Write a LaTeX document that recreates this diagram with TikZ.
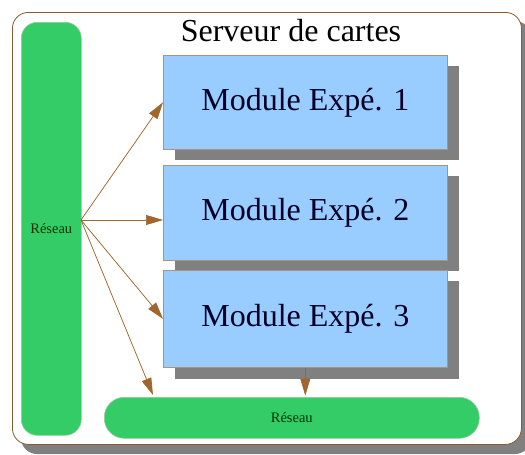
\documentclass[tikz,border=0pt]{standalone}
\usepackage{fontspec}
\setmainfont{Liberation Serif}
\usetikzlibrary{arrows.meta,calc}
\definecolor{netgreen}{RGB}{51,204,102}
\definecolor{modblue}{RGB}{153,204,255}
\definecolor{shadowgray}{RGB}{128,128,128}
\definecolor{arrowbrown}{RGB}{160,102,45}
\definecolor{framebrown}{RGB}{140,90,50}
\tikzset{
  frame/.style={draw=framebrown, line width=0.8pt, fill=white, rounded corners=16pt},
  modshadow/.style={fill=shadowgray, draw=none},
  module/.style={draw=black!40!brown!60, line width=0.6pt, fill=modblue, font=\fontsize{32}{36}\selectfont, text=black!85!blue},
  net/.style={draw=black!50!green!40, line width=0.6pt, fill=netgreen, font=\fontsize{14.5}{16}\selectfont, text=black!80!green},
  link/.style={draw=arrowbrown, line width=0.7pt, -{Triangle[length=17pt,width=10pt]}, fill=arrowbrown}
}
\begin{document}
\begin{tikzpicture}[x=1pt,y=-1pt]
\useasboundingbox (0,0) rectangle (525,455);
% outer frame with shadow
\fill[shadowgray, rounded corners=16pt] (21,21) rectangle (531,454);
\node[frame, minimum width=509pt, minimum height=432pt, anchor=north west, inner sep=0pt] (frame) at (12,12) {};
\node[font=\fontsize{32}{36}\selectfont] (title) at (291,31) {Serveur de cartes};
% module shadows
\fill[modshadow] (175,66) rectangle (459,160);
\fill[modshadow] (175,176) rectangle (459,271);
\fill[modshadow] (175,281) rectangle (459,379);
% modules
\node[module, anchor=north west, minimum width=284pt, minimum height=94pt, inner sep=0pt] (m1) at (163,55) {Module Expé. 1};
\node[module, anchor=north west, minimum width=284pt, minimum height=95pt, inner sep=0pt] (m2) at (163,165) {Module Expé. 2};
\node[module, anchor=north west, minimum width=284pt, minimum height=97pt, inner sep=0pt] (m3) at (163,270) {Module Expé. 3};
% networks
\node[net, anchor=north west, minimum width=60pt, minimum height=413pt, inner sep=0pt, rounded corners=16pt] (resL) at (21,22) {Réseau};
\node[net, anchor=north west, minimum width=375pt, minimum height=41pt, inner sep=0pt, rounded corners=20pt] (resB) at (104,397) {Réseau};
% connectors
\coordinate (src) at (81,220);
\coordinate (t2) at (163,220);
\coordinate (t4) at (153,395);
\coordinate (t5) at ($(m3.south)+(0,28)$);
\draw[link] (src) -- (m1.west);
\draw[link] (src) -- (t2);
\draw[link] (src) -- (m3.west);
\draw[link] (src) -- (t4);
\draw[link] (m3.south) -- (t5);
\end{tikzpicture}
\end{document}
